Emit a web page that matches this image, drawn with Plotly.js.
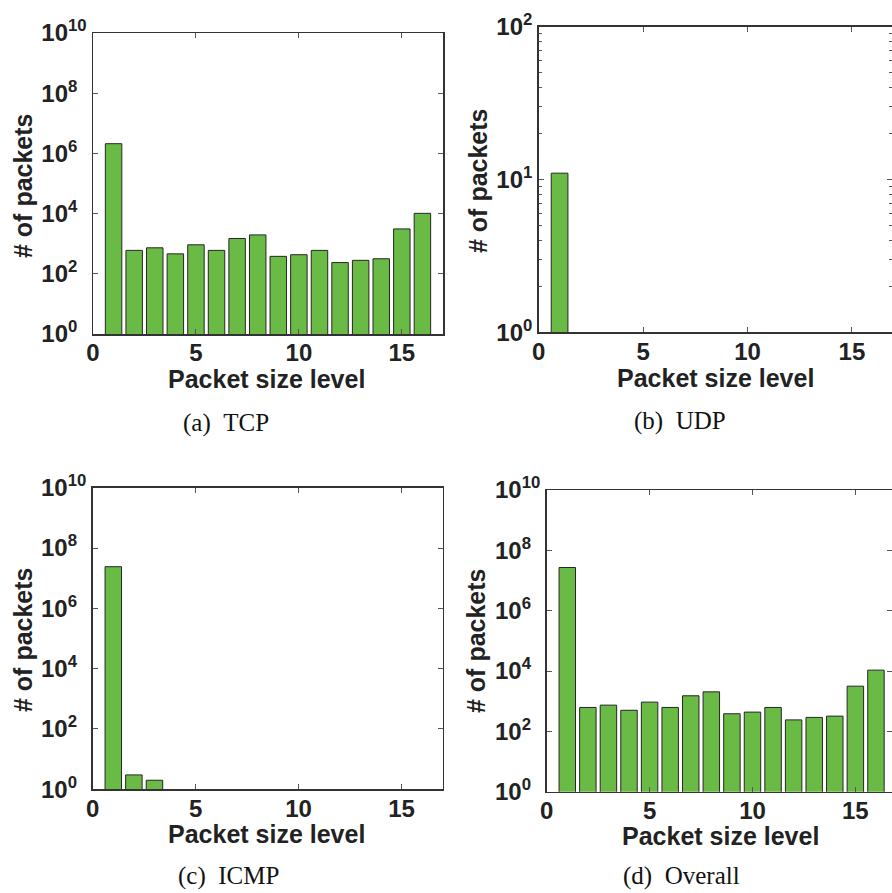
<!DOCTYPE html>
<html>
<head>
<meta charset="utf-8">
<script src="https://cdn.plot.ly/plotly-3.0.1.min.js"></script>
<style>html,body{margin:0;padding:0;background:#fff;}#chart{width:892px;height:893px;}</style>
</head>
<body>
<div id="chart"></div>
<script>
// ---- data ----
const levels = [1, 2, 3, 4, 5, 6, 7, 8, 9, 10, 11, 12, 13, 14, 15, 16];
const tcpCounts = [2.1e6, 600, 730, 460, 920, 600, 1490, 1960, 380, 430, 600, 236, 280, 316, 3100, 10200];
const udpLevels = [1];
const udpCounts = [11];
const icmpLevels = [1, 2, 3];
const icmpCounts = [2.4e7, 3, 2];
const overallCounts = [2.7e7, 620, 740, 500, 930, 620, 1510, 2040, 383, 435, 620, 240, 290, 320, 3150, 10700];

const xTickVals = [0, 5, 10, 15];
const xTickText = ['0', '5', '10', '15'];
const bigExponents = [0, 2, 4, 6, 8, 10];
const udpExponents = [0, 1, 2];
const udpMinorVals = [2, 3, 4, 5, 6, 7, 8, 9, 20, 30, 40, 50, 60, 70, 80, 90];

const xTitle = 'Packet size level';
const yTitle = '# of packets';
const captions = ['(a)\u00a0\u00a0TCP', '(b)\u00a0\u00a0UDP', '(c)\u00a0\u00a0ICMP', '(d)\u00a0\u00a0Overall'];

// ---- helpers ----
const W = 892, H = 893;
const px = v => v / W;
const py = v => 1 - v / H;
const pad = '\u2007';
function expLabels(exps, maxLen) {
  return exps.map(e => {
    const s = String(e);
    return '10<sup>' + s + pad.repeat(maxLen - s.length) + '</sup>';
  });
}

const green = '#6abb45';
const barStyle = {color: green, line: {color: '#262626', width: 1}};
const tickFont = {family: 'Liberation Sans, Arial, sans-serif', size: 24, color: '#222', weight: 'bold'};
const titleFont = {family: 'Liberation Sans, Arial, sans-serif', size: 25, color: '#222', weight: 'bold'};
const capFont = {family: 'Liberation Serif, Times New Roman, serif', size: 25, color: '#111'};

function xAxis(domain, range, anchor) {
  return {
    domain: domain, range: range, anchor: anchor,
    showline: true, linecolor: '#333', linewidth: 1.5, mirror: 'ticks',
    ticks: 'inside', ticklen: 5, tickwidth: 1, tickcolor: '#555',
    tickmode: 'array', tickvals: xTickVals, ticktext: xTickText,
    tickfont: tickFont, ticklabelstandoff: -3,
    showgrid: false, zeroline: false, fixedrange: true
  };
}
function yAxis(domain, range, anchor, exps, padLen, minorVals) {
  const ax = {
    type: 'log', domain: domain, range: range, anchor: anchor,
    showline: true, linecolor: '#333', linewidth: 1.5, mirror: 'ticks',
    ticks: 'inside', ticklen: 5, tickwidth: 1, tickcolor: '#555',
    tickmode: 'array', tickvals: exps.map(e => Math.pow(10, e)), ticktext: expLabels(exps, padLen),
    tickfont: tickFont, ticklabelstandoff: 0,
    showgrid: false, zeroline: false, fixedrange: true
  };
  if (minorVals) {
    ax.minor = {tickmode: 'array', tickvals: minorVals, ticks: 'inside', ticklen: 3, tickwidth: 1, tickcolor: '#555', showgrid: false};
  }
  return ax;
}

const traces = [
  {type: 'bar', x: levels, y: tcpCounts, xaxis: 'x', yaxis: 'y', width: 0.8, marker: barStyle},
  {type: 'bar', x: udpLevels, y: udpCounts, xaxis: 'x2', yaxis: 'y2', width: 0.8, marker: barStyle},
  {type: 'bar', x: icmpLevels, y: icmpCounts, xaxis: 'x3', yaxis: 'y3', width: 0.8, marker: barStyle},
  {type: 'bar', x: levels, y: overallCounts, xaxis: 'x4', yaxis: 'y4', width: 0.8, marker: barStyle}
];

// panel boxes in pixels: [left, right, top, bottom]
const boxA = [93, 443, 33, 334];
const boxB = [538.7, 892, 26.7, 332.3];
const boxC = [92.7, 442.7, 487.7, 789.3];
const boxD = [546.7, 892, 490, 791.7];
const dx = b => [px(b[0]), Math.min(1, px(b[1]))];
const dy = b => [py(b[3]), py(b[2])];

function ann(text, x, y, font, angle) {
  return {text: text, x: px(x), y: py(y), xref: 'paper', yref: 'paper',
          xanchor: 'center', yanchor: 'middle', showarrow: false, font: font, textangle: angle || 0};
}

const layout = {
  width: W, height: H,
  margin: {l: 0, r: 0, t: 0, b: 0},
  paper_bgcolor: '#fff', plot_bgcolor: '#fff',
  showlegend: false, bargap: 0.2,
  xaxis: xAxis(dx(boxA), [0, 17], 'y'),
  yaxis: yAxis(dy(boxA), [0, 10], 'x', bigExponents, 2),
  xaxis2: xAxis(dx(boxB), [0, 16.92], 'y2'),
  yaxis2: yAxis(dy(boxB), [0, 2], 'x2', udpExponents, 1, udpMinorVals),
  xaxis3: xAxis(dx(boxC), [0, 17], 'y3'),
  yaxis3: yAxis(dy(boxC), [0, 10], 'x3', bigExponents, 2),
  xaxis4: xAxis(dx(boxD), [0, 16.78], 'y4'),
  yaxis4: yAxis(dy(boxD), [0, 10], 'x4', bigExponents, 2),
  annotations: [
    ann(xTitle, 266, 379, titleFont), ann(yTitle, 23, 186, titleFont, -90), ann(captions[0], 226, 423, capFont),
    ann(xTitle, 715, 378, titleFont), ann(yTitle, 478, 181, titleFont, -90), ann(captions[1], 680, 421, capFont),
    ann(xTitle, 266, 834, titleFont), ann(yTitle, 23, 640, titleFont, -90), ann(captions[2], 228, 876, capFont),
    ann(xTitle, 720, 836, titleFont), ann(yTitle, 476, 641, titleFont, -90), ann(captions[3], 681, 876, capFont)
  ]
};

Plotly.newPlot('chart', traces, layout, {displayModeBar: false, staticPlot: true});
</script>
</body>
</html>
